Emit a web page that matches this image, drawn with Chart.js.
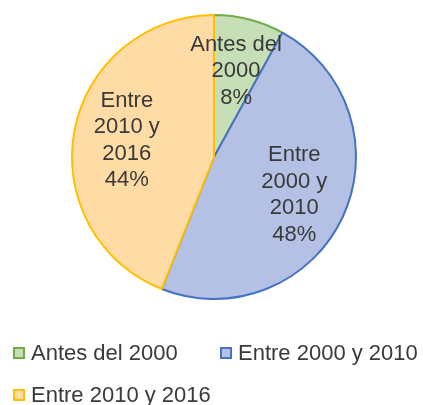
<!DOCTYPE html>
<html>
<head>
<meta charset="utf-8">
<script src="https://cdn.jsdelivr.net/npm/chart.js@4/dist/chart.umd.min.js"></script>
<style>
  html, body { margin: 0; padding: 0; background: #fff; overflow: hidden; }
  #wrap { width: 423px; height: 405px; position: relative; }
</style>
</head>
<body>
<div id="wrap"><canvas id="pie-chart"></canvas></div>
<script>
const categories = ["Antes del 2000", "Entre 2000 y 2010", "Entre 2010 y 2016"];
const shares = [8, 48, 44];
const sliceLabels = [
  ["Antes del", "2000", "8%"],
  ["Entre", "2000 y", "2010", "48%"],
  ["Entre", "2010 y", "2016", "44%"],
];
const fillColors = ["#c6dfb6", "#b4c1e4", "#ffdba6"];
const borderColors = ["#70ad47", "#4472c4", "#ffc000"];

const textColor = "#3a3a3a";
const fontFamily = "'Liberation Sans', Arial, sans-serif";

// labels inside the slices, placed on each arc's mid angle
const sliceLabelPlugin = {
  id: "sliceLabels",
  afterDatasetsDraw(chart) {
    const ctx = chart.ctx;
    const meta = chart.getDatasetMeta(0);
    ctx.save();
    ctx.font = "22px " + fontFamily;
    ctx.fillStyle = textColor;
    ctx.textAlign = "center";
    ctx.textBaseline = "middle";
    meta.data.forEach((arc, i) => {
      const p = arc.getProps(["x", "y", "startAngle", "endAngle", "outerRadius"], true);
      const mid = (p.startAngle + p.endAngle) / 2;
      const r = p.outerRadius * 0.625;
      const cx = p.x + Math.cos(mid) * r;
      const cy = p.y + Math.sin(mid) * r;
      const lines = sliceLabels[i];
      const lh = 26.5;
      lines.forEach((t, j) => {
        ctx.fillText(t, cx, cy + (j - (lines.length - 1) / 2) * lh);
      });
    });
    ctx.restore();
  },
};

// legend at the bottom, two rows like the original
const legendPlugin = {
  id: "bottomLegend",
  afterDraw(chart) {
    const ctx = chart.ctx;
    const spots = [
      { x: 13, y: 353 },
      { x: 220, y: 353 },
      { x: 13, y: 395 },
    ];
    ctx.save();
    ctx.font = "22px " + fontFamily;
    ctx.textBaseline = "middle";
    ctx.textAlign = "left";
    chart.data.labels.forEach((label, i) => {
      const s = spots[i];
      ctx.fillStyle = fillColors[i];
      ctx.strokeStyle = borderColors[i];
      ctx.lineWidth = 2;
      ctx.fillRect(s.x, s.y - 6, 12, 12);
      ctx.strokeRect(s.x + 1, s.y - 5, 10, 10);
      ctx.fillStyle = textColor;
      ctx.fillText(label, s.x + 18, s.y + 1);
    });
    ctx.restore();
  },
};

new Chart(document.getElementById("pie-chart"), {
  type: "pie",
  data: {
    labels: categories,
    datasets: [
      {
        data: shares,
        backgroundColor: fillColors,
        borderColor: borderColors,
        borderWidth: 2,
        radius: 142,
      },
    ],
  },
  options: {
    responsive: true,
    maintainAspectRatio: false,
    animation: false,
    layout: { padding: { left: 5, top: 0, right: 0, bottom: 91 } },
    plugins: {
      legend: { display: false },
      tooltip: { enabled: false },
    },
  },
  plugins: [sliceLabelPlugin, legendPlugin],
});
</script>
</body>
</html>
